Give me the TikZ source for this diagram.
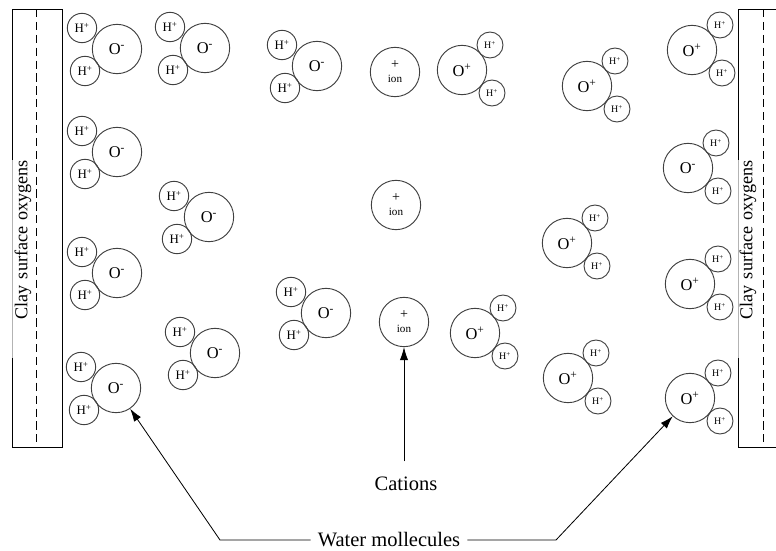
\documentclass[tikz,border=0pt]{standalone}
\usepackage{fontspec}
\setmainfont{Liberation Serif}
\usetikzlibrary{arrows.meta, positioning}

\begin{document}
\begin{tikzpicture}[
  x=0.03cm, y=-0.03cm,
  atom/.style={circle, draw=black!75, line width=0.8pt, inner sep=0pt},
  oxy/.style={atom, minimum size=1.48cm, font=\fontsize{14}{15}\selectfont},
  hyd/.style={atom, minimum size=0.88cm, font=\fontsize{11}{12}\selectfont},
  hydsm/.style={atom, minimum size=0.78cm, font=\fontsize{8.5}{9}\selectfont},
  ionnode/.style={atom, minimum size=1.48cm, align=center,
                  font=\fontsize{9.5}{12}\selectfont},
  wall/.style={line width=0.8pt},
  walllabel/.style={rotate=90, fill=white, fill opacity=0.7, text opacity=1,
                    text width=5.94cm, align=right, minimum height=0.7cm,
                    inner xsep=0pt, font=\fontsize{15.5}{17}\selectfont},
  lbl/.style={font=\fontsize{17.5}{20}\selectfont, inner xsep=6pt},
  arr/.style={-{Latex[length=11pt,width=7pt]}, line width=0.7pt}
]
\useasboundingbox (0,0) rectangle (776,550);
\clip (0,0) rectangle (776,550);

% clay walls
\draw[wall] (12,9) rectangle (62,447);
\draw[wall, dashed, dash pattern=on 7pt off 4pt] (36,9) -- (36,447);
\draw[wall] (738,9) rectangle (800,447);
\draw[wall, dashed, dash pattern=on 7pt off 4pt] (763,9) -- (763,447);
\node[walllabel] (clayl) at (23,259) {Clay surface oxygens};
\node[walllabel] (clayr) at (748,259) {Clay surface oxygens};

% water molecules, hydrogens on the left
\foreach \n/\x/\y in {1/117/49, 2/117/152, 3/117/273, 4/116/388,
                      5/205/48, 6/209/217, 7/215/353, 8/317/66, 9/326/313} {
  \node[oxy] (o\n)   at (\x,\y)       {O\textsuperscript{-}};
  \node[hyd] (h\n a) at (\x-35,\y-21) {H\textsuperscript{+}};
  \node[hyd] (h\n b) at (\x-32,\y+22) {H\textsuperscript{+}};
}

% water molecules, hydrogens on the right
\foreach \n/\x/\y/\c in {10/462/70/+, 11/587/86/+, 12/567/243/+, 13/475/333/+,
                         14/568/378/+, 15/692/50/+, 16/688/168/-, 17/690/284/+,
                         18/690/398/+} {
  \node[oxy]   (o\n)   at (\x,\y)       {O\textsuperscript{\c}};
  \node[hydsm] (h\n a) at (\x+28,\y-25) {H\textsuperscript{+}};
  \node[hydsm] (h\n b) at (\x+30,\y+23) {H\textsuperscript{+}};
}

% cations
\node[ionnode] (ion1) at (395,72)  {{\fontsize{12}{12}\selectfont+}\\ion};
\node[ionnode] (ion2) at (396,205) {{\fontsize{12}{12}\selectfont+}\\ion};
\node[ionnode] (ion3) at (404,322) {{\fontsize{12}{12}\selectfont+}\\ion};

% labels
\node[lbl] (cations) at (406,484) {Cations};
\node[lbl] (water)   at (389,540) {Water mollecules};
\coordinate (wl) at (220,540);
\coordinate (wr) at (556,540);

\draw[arr, shorten <=10pt] (cations.north -| ion3) -- (ion3);
\draw[arr] (water.west) -- (wl) -- (o4);
\draw[arr] (water.east) -- (wr) -- (o18);

\end{tikzpicture}
\end{document}
